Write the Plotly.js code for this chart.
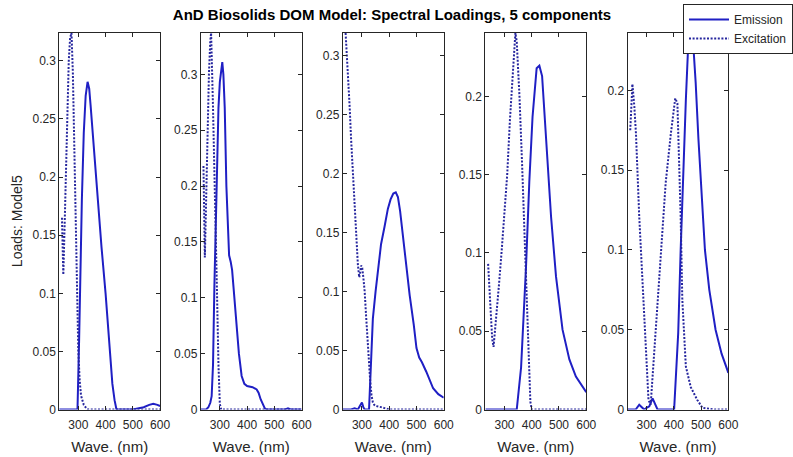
<!DOCTYPE html>
<html>
<head>
<meta charset="utf-8">
<script src="https://cdn.plot.ly/plotly-3.0.1.min.js"></script>
<style>html,body{margin:0;padding:0;background:#fff;}#chart{width:793px;height:457px;}</style>
</head>
<body>
<div id="chart"></div>
<script>
// ---- Data ----
const chartTitle = "AnD Biosolids DOM Model: Spectral Loadings, 5 components";
const xTitle = "Wave. (nm)";
const yTitle = "Loads: Model5";
const seriesNames = ["Emission", "Excitation"];
const xTickVals = [300, 400, 500, 600];
const xTickText = ["300", "400", "500", "600"];
const yTickValsA = [0, 0.05, 0.1, 0.15, 0.2, 0.25, 0.3];
const yTickTextA = ["0", "0.05", "0.1", "0.15", "0.2", "0.25", "0.3"];
const yTickValsB = [0, 0.05, 0.1, 0.15, 0.2];
const yTickTextB = ["0", "0.05", "0.1", "0.15", "0.2"];

// Component 1
const em1Wave = [230, 290, 297, 303, 307, 313, 320, 327, 334, 340, 345, 355, 365, 372, 385, 400, 408, 415, 425, 433, 440, 500, 520, 540, 560, 575, 590, 600];
const em1Load = [0, 0, 0, 0.06, 0.12, 0.18, 0.238, 0.27, 0.282, 0.276, 0.262, 0.23, 0.2, 0.18, 0.14, 0.1, 0.075, 0.05, 0.022, 0.008, 0, 0, 0.001, 0.002, 0.004, 0.005, 0.004, 0.003];
const ex1Wave = [240, 245, 250, 255, 260, 265, 270, 275, 280, 285, 290, 295, 300, 305, 310, 320, 330, 337, 400, 500, 600];
const ex1Load = [0.165, 0.116, 0.16, 0.21, 0.26, 0.3, 0.32, 0.324, 0.29, 0.23, 0.16, 0.09, 0.05, 0.025, 0.012, 0.004, 0.001, 0, 0, 0, 0];

// Component 2
const em2Wave = [230, 250, 258, 265, 270, 275, 280, 285, 290, 295, 300, 305, 309, 313, 318, 324, 330, 334, 340, 345, 350, 360, 370, 380, 390, 400, 420, 435, 442, 450, 458, 465, 470, 540, 550, 560, 600];
const em2Load = [0, 0, 0.002, 0.006, 0.012, 0.04, 0.11, 0.17, 0.233, 0.27, 0.293, 0.307, 0.311, 0.3, 0.27, 0.2, 0.155, 0.138, 0.132, 0.125, 0.11, 0.08, 0.05, 0.03, 0.023, 0.021, 0.02, 0.018, 0.015, 0.009, 0.004, 0.001, 0, 0, 0.001, 0, 0];
const ex2Wave = [240, 245, 250, 255, 260, 265, 268, 275, 280, 285, 290, 295, 300, 305, 400, 500, 600];
const ex2Load = [0.218, 0.136, 0.19, 0.25, 0.3, 0.33, 0.337, 0.27, 0.22, 0.16, 0.1, 0.04, 0.005, 0, 0, 0, 0];

// Component 3
const em3Wave = [230, 260, 273, 285, 295, 300, 305, 310, 326, 333, 340, 350, 360, 370, 383, 395, 405, 415, 424, 432, 440, 450, 460, 475, 490, 500, 510, 520, 536, 550, 561, 580, 600];
const em3Load = [0, 0, 0.001, 0, 0.004, 0.006, 0.002, 0, 0, 0.04, 0.077, 0.1, 0.12, 0.14, 0.155, 0.17, 0.178, 0.183, 0.184, 0.18, 0.168, 0.148, 0.125, 0.097, 0.072, 0.052, 0.044, 0.04, 0.032, 0.024, 0.018, 0.013, 0.01];
const ex3Wave = [240, 245, 250, 255, 260, 267, 273, 279, 285, 290, 293, 297, 301, 305, 310, 315, 320, 325, 330, 335, 340, 345, 350, 370, 390, 400, 500, 600];
const ex3Load = [0.319, 0.3, 0.28, 0.256, 0.23, 0.197, 0.17, 0.14, 0.123, 0.112, 0.115, 0.122, 0.12, 0.112, 0.1, 0.08, 0.06, 0.04, 0.025, 0.012, 0.006, 0.004, 0.003, 0.002, 0.001, 0, 0, 0];

// Component 4
const em4Wave = [230, 300, 345, 361, 379, 391, 403, 418, 428, 438, 452, 471, 489, 513, 538, 562, 600];
const em4Load = [0, 0, 0, 0.027, 0.091, 0.145, 0.187, 0.218, 0.2196, 0.213, 0.172, 0.123, 0.085, 0.051, 0.032, 0.021, 0.011];
const ex4Wave = [240, 245, 250, 255, 260, 270, 280, 290, 300, 310, 320, 330, 335, 340, 345, 355, 365, 375, 385, 395, 400, 500, 600];
const ex4Load = [0.093, 0.075, 0.057, 0.045, 0.04, 0.058, 0.08, 0.102, 0.125, 0.15, 0.185, 0.215, 0.23, 0.2405, 0.235, 0.2, 0.155, 0.105, 0.05, 0.005, 0, 0, 0];

// Component 5
const em5Wave = [230, 260, 273, 285, 291, 300, 310, 322, 333, 340, 401, 408, 416, 425, 435, 444, 453, 462, 470, 480, 490, 500, 514, 530, 553, 575, 600];
const em5Load = [0, 0, 0.003, 0.001, 0, 0.001, 0.002, 0.007, 0.002, 0, 0, 0.02, 0.048, 0.1, 0.152, 0.194, 0.23, 0.236, 0.232, 0.205, 0.17, 0.14, 0.1, 0.075, 0.05, 0.035, 0.023];
const ex5Wave = [240, 248, 255, 261, 273, 285, 297, 307, 315, 328, 346, 370, 389, 405, 413, 425, 431, 444, 462, 486, 505, 550, 600];
const ex5Load = [0.175, 0.204, 0.19, 0.173, 0.121, 0.079, 0.037, 0.006, 0.003, 0.037, 0.079, 0.142, 0.173, 0.195, 0.192, 0.121, 0.069, 0.027, 0.014, 0.006, 0.001, 0, 0];

const emWaves = [em1Wave, em2Wave, em3Wave, em4Wave, em5Wave];
const emLoads = [em1Load, em2Load, em3Load, em4Load, em5Load];
const exWaves = [ex1Wave, ex2Wave, ex3Wave, ex4Wave, ex5Wave];
const exLoads = [ex1Load, ex2Load, ex3Load, ex4Load, ex5Load];
const yTops = [0.324, 0.337, 0.319, 0.2405, 0.236];

// ---- Layout ----
const W = 793, H = 457;
const panelLefts = [59.3, 201, 343.3, 486, 628.3];
const panelW = 101;
const plotTop = 33, plotBottom = 409.5;
const txtColor = "#262626";
const fontFam = "Liberation Sans, Arial, Helvetica, sans-serif";
const emColor = "#1f1fc4";
const exColor = "#26269e";

const traces = [];
const layout = {
  width: W, height: H,
  margin: {l: 0, r: 0, t: 0, b: 0},
  paper_bgcolor: "#fff", plot_bgcolor: "#fff",
  font: {family: fontFam, color: txtColor, size: 12},
  title: {text: chartTitle, font: {family: fontFam, size: 15, color: "#000", weight: "bold"},
          x: 392 / W, xanchor: "center", y: 1 - 15 / H, yanchor: "middle"},
  showlegend: true,
  legend: {x: 684 / W, y: 1 - 4 / H, xanchor: "left", yanchor: "top", bgcolor: "#fff",
           bordercolor: txtColor, borderwidth: 1, font: {size: 12, color: txtColor},
           tracegroupgap: 0, itemwidth: 40, entrywidth: 64},
};

for (let i = 0; i < 5; i++) {
  const sx = i === 0 ? "" : String(i + 1);
  traces.push({x: emWaves[i], y: emLoads[i], type: "scatter", mode: "lines", name: seriesNames[0],
    xaxis: "x" + sx, yaxis: "y" + sx, showlegend: i === 0,
    line: {color: emColor, width: 2}, hoverinfo: "skip"});
  traces.push({x: exWaves[i], y: exLoads[i], type: "scatter", mode: "lines", name: seriesNames[1],
    xaxis: "x" + sx, yaxis: "y" + sx, showlegend: i === 0,
    line: {color: exColor, width: 2, dash: "2px,1.6px"}, hoverinfo: "skip"});
  const isB = i >= 3;
  layout["xaxis" + sx] = {
    domain: [panelLefts[i] / W, (panelLefts[i] + panelW) / W],
    anchor: "y" + sx, range: [230, 600], tickmode: "array",
    tickvals: xTickVals, ticktext: xTickText,
    ticks: "inside", ticklen: 4, tickcolor: txtColor, mirror: "ticks",
    showline: true, linecolor: txtColor, linewidth: 1,
    showgrid: false, zeroline: false, fixedrange: true,
    ticklabelstandoff: 4,
    tickfont: {size: 12, color: txtColor},
    title: {text: xTitle, font: {size: 15, color: txtColor}, standoff: 10},
  };
  layout["yaxis" + sx] = {
    domain: [(H - plotBottom) / H, (H - plotTop) / H],
    anchor: "x" + sx, range: [0, yTops[i]], tickmode: "array",
    tickvals: isB ? yTickValsB : yTickValsA, ticktext: isB ? yTickTextB : yTickTextA,
    ticks: "inside", ticklen: 4, tickcolor: txtColor, mirror: "ticks",
    showline: true, linecolor: txtColor, linewidth: 1,
    showgrid: false, zeroline: false, fixedrange: true,
    tickfont: {size: 12, color: txtColor},
  };
  if (i === 0) {
    layout["yaxis" + sx].title = {text: yTitle, font: {size: 14, color: txtColor}, standoff: 6};
  }
}

Plotly.newPlot("chart", traces, layout, {displayModeBar: false, staticPlot: true});
</script>
</body>
</html>
